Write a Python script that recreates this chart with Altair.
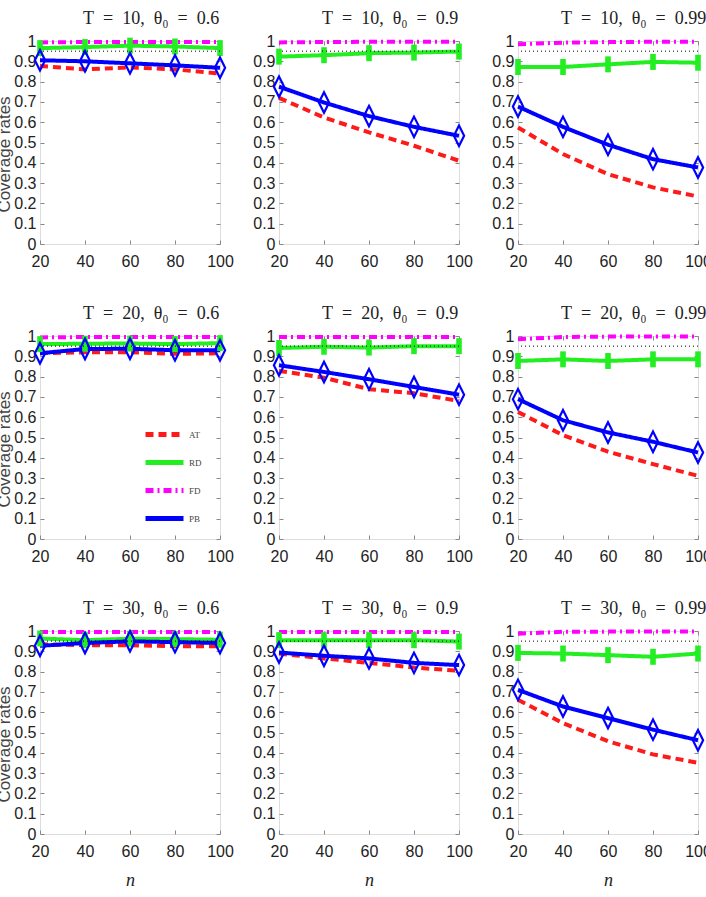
import altair as alt
import pandas as pd

# ---------------- data ----------------
N_VALUES = [20, 40, 60, 80, 100]
T_VALUES = [10, 10, 10, 20, 20, 20, 30, 30, 30]
THETA_VALUES = ["0.6", "0.9", "0.99", "0.6", "0.9", "0.99", "0.6", "0.9", "0.99"]

AT_RATES = [
    [0.877, 0.860, 0.870, 0.860, 0.840],
    [0.720, 0.623, 0.550, 0.484, 0.410],
    [0.574, 0.443, 0.344, 0.279, 0.234],
    [0.915, 0.920, 0.920, 0.912, 0.915],
    [0.828, 0.795, 0.738, 0.718, 0.680],
    [0.626, 0.511, 0.430, 0.369, 0.311],
    [0.935, 0.930, 0.930, 0.925, 0.925],
    [0.889, 0.865, 0.843, 0.820, 0.804],
    [0.661, 0.546, 0.457, 0.392, 0.351],
]
RD_RATES = [
    [0.965, 0.970, 0.977, 0.973, 0.965],
    [0.923, 0.930, 0.940, 0.943, 0.948],
    [0.872, 0.872, 0.885, 0.897, 0.893],
    [0.960, 0.962, 0.963, 0.960, 0.965],
    [0.941, 0.947, 0.943, 0.950, 0.950],
    [0.877, 0.885, 0.877, 0.885, 0.885],
    [0.963, 0.955, 0.962, 0.960, 0.957],
    [0.955, 0.955, 0.955, 0.955, 0.948],
    [0.892, 0.889, 0.881, 0.873, 0.889],
]
FD_RATES = [
    [0.993, 0.995, 0.995, 0.995, 0.995],
    [0.993, 0.995, 0.996, 0.996, 0.996],
    [0.984, 0.992, 0.995, 0.996, 0.997],
    [0.993, 0.995, 0.995, 0.995, 0.995],
    [0.995, 0.995, 0.995, 0.995, 0.995],
    [0.984, 0.995, 0.997, 0.997, 0.997],
    [0.995, 0.995, 0.995, 0.995, 0.995],
    [0.995, 0.995, 0.995, 0.995, 0.995],
    [0.987, 0.996, 0.997, 0.997, 0.997],
]
PB_RATES = [
    [0.905, 0.900, 0.890, 0.880, 0.868],
    [0.775, 0.697, 0.630, 0.577, 0.533],
    [0.677, 0.577, 0.489, 0.418, 0.377],
    [0.915, 0.936, 0.937, 0.930, 0.930],
    [0.856, 0.823, 0.787, 0.749, 0.711],
    [0.689, 0.585, 0.525, 0.479, 0.426],
    [0.927, 0.941, 0.949, 0.945, 0.941],
    [0.894, 0.878, 0.865, 0.843, 0.832],
    [0.710, 0.628, 0.571, 0.514, 0.462],
]
NOMINAL_LEVEL = [0.95]

METHODS = ["AT", "RD", "FD", "PB"]
Y_TICKS = [0, 0.1, 0.2, 0.3, 0.4, 0.5, 0.6, 0.7, 0.8, 0.9, 1]
X_TICKS = [20, 40, 60, 80, 100]

# ---------------- styles ----------------
COLORS = ["#ff1a1a", "#22ee22", "#ff00ff", "#0000ff"]
DASHES = [[8, 5], [1, 0], [8, 4, 2, 4], [1, 0]]
TICK_FONT = "Liberation Sans"
SERIF = "Liberation Serif"
TICK_SIZE = 16

rows = []
for p in range(9):
    for m, series in zip(METHODS, [AT_RATES, RD_RATES, FD_RATES, PB_RATES]):
        for n, v in zip(N_VALUES, series[p]):
            rows.append({"panel": p, "method": m, "n": n, "rate": v})
df = pd.DataFrame(rows)
ref_df = pd.DataFrame({"rate": NOMINAL_LEVEL})

xscale = alt.Scale(domain=[20, 100], nice=False, zero=False)
yscale = alt.Scale(domain=[0, 1], nice=False)

legend = alt.Legend(
    title=None, orient="none", legendX=112, legendY=381,
    symbolType="M-1.9,0L1.9,0", symbolStrokeWidth=5, symbolSize=400,
    labelFont=SERIF, labelFontSize=9, labelColor="#444",
    rowPadding=5, labelOffset=12,
)
color = alt.Color("method:N", scale=alt.Scale(domain=METHODS, range=COLORS), legend=legend)
dash = alt.StrokeDash("method:N", scale=alt.Scale(domain=METHODS, range=DASHES), legend=legend)

RD_SHAPE = "M-0.35,-1L0.35,-1L0.35,1L-0.35,1Z"
PB_SHAPE = "M0,-1L0.5,0L0,1L-0.5,0Z"


def panel(p):
    row, col = divmod(p, 3)
    d = df[df.panel == p]
    base = alt.Chart(d)

    x_main = alt.X(
        "n:Q", scale=xscale,
        axis=alt.Axis(
            orient="bottom", values=X_TICKS, offset=-4, tickSize=4, domain=False,
            grid=False, labelFlush=False, labelPadding=9,
            labelFont=TICK_FONT, labelFontSize=TICK_SIZE, labelColor="#222",
            title="n" if row == 2 else None,
            titleFont=SERIF, titleFontStyle="italic", titleFontSize=18,
            titleFontWeight="normal", titlePadding=12, titleColor="#222",
        ),
    )
    y_main = alt.Y(
        "rate:Q", scale=yscale,
        axis=alt.Axis(
            orient="left", values=Y_TICKS, format="~g", offset=-4, tickSize=4,
            domain=False, grid=False, labelFlush=False, labelOverlap=False,
            labelPadding=4, labelFont=TICK_FONT, labelFontSize=TICK_SIZE,
            labelColor="#222",
            title="Coverage rates" if col == 0 else None,
            titleFont=TICK_FONT, titleFontSize=17, titleFontWeight="normal",
            titleColor="#444", titlePadding=0, titleY=113,
        ),
    )
    x_none = alt.X("n:Q", scale=xscale, axis=None)
    y_none = alt.Y("rate:Q", scale=yscale, axis=None)

    def line(m, axes=False):
        return base.transform_filter(alt.datum.method == m).mark_line(
            strokeWidth=4
        ).encode(
            x=x_main if axes else x_none,
            y=y_main if axes else y_none,
            color=color, strokeDash=dash,
        )

    fd = line("FD", axes=True)
    rd = line("RD")
    at = line("AT")
    pb = line("PB")

    rd_pts = base.transform_filter(alt.datum.method == "RD").mark_point(
        shape=RD_SHAPE, filled=True, size=256, color=COLORS[1], opacity=1
    ).encode(
        x=alt.X("n:Q", scale=xscale, axis=alt.Axis(
            orient="top", values=X_TICKS, offset=-4, tickSize=4, labels=False,
            domain=False, grid=False, title=None)),
        y=y_none,
    )
    pb_pts = base.transform_filter(alt.datum.method == "PB").mark_point(
        shape=PB_SHAPE, filled=False, size=420, color=COLORS[3],
        strokeWidth=2.2, opacity=1
    ).encode(x=x_none, y=y_none)

    nominal = alt.Chart(ref_df).mark_rule(
        color="black", strokeDash=[1, 3], strokeWidth=1
    ).encode(
        y=alt.Y("rate:Q", scale=yscale, axis=alt.Axis(
            orient="right", values=Y_TICKS, offset=-4, tickSize=4, labels=False,
            domain=False, grid=False, title=None)),
    )

    title_text = f"T\u2002=\u2002{T_VALUES[p]},\u2002θ₀\u2002=\u2002{THETA_VALUES[p]}"
    return alt.layer(fd, rd, at, pb, rd_pts, pb_pts, nominal).resolve_axis(
        x="independent", y="independent"
    ).properties(
        width=180, height=203,
        title=alt.TitleParams(
            text=title_text,
            anchor="start", frame="group", dx=43, offset=5,
            font=SERIF, fontSize=18, fontWeight="normal", color="#222",
        ),
    )


chart = alt.concat(
    *[panel(p) for p in range(9)], columns=3,
    spacing=alt.RowColnumber(row=92, column=59),
).properties(
    bounds="flush",
    padding={"left": -5, "top": 9, "right": -6, "bottom": 0},
).configure_view(
    stroke="black", strokeWidth=1.3
).configure_axis(
    tickColor="black", tickWidth=1,
).configure(background="white")

chart.save("out.html", embed_options={"renderer": "svg", "actions": False})
